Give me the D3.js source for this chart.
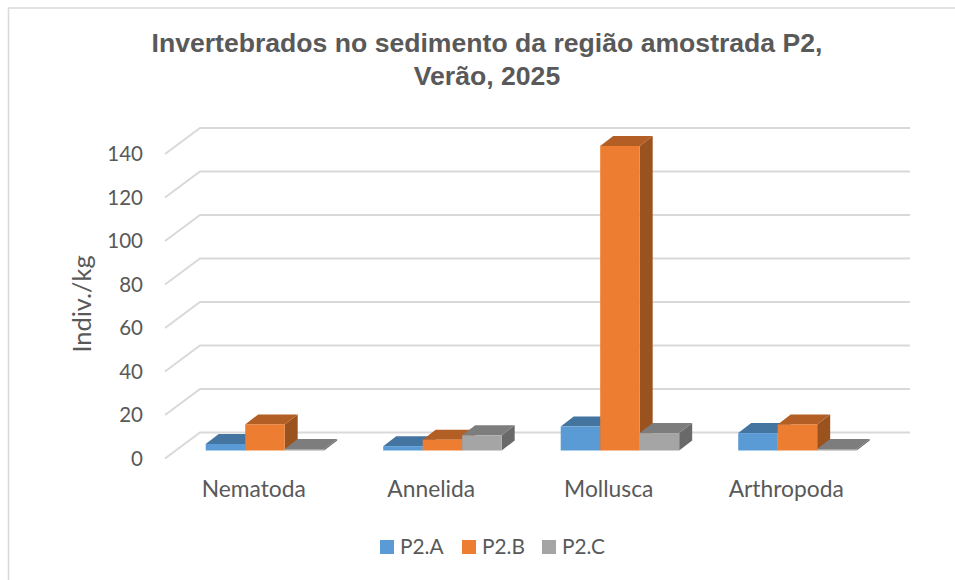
<!DOCTYPE html>
<html>
<head>
<meta charset="utf-8">
<script src="https://cdn.jsdelivr.net/npm/d3@7"></script>
<style>
html,body{margin:0;padding:0;background:#fff;overflow:hidden}
svg{display:block}
</style>
</head>
<body>
<svg id="chart" width="955" height="580"></svg>
<script>
const categories = ["Nematoda", "Annelida", "Mollusca", "Arthropoda"];
const seriesNames = ["P2.A", "P2.B", "P2.C"];
const valuesA = [3, 2, 11, 8];
const valuesB = [12, 5, 140, 12];
const valuesC = [0, 7, 8, 0];
const yTicks = [0, 20, 40, 60, 80, 100, 120, 140];
const titleLines = ["Invertebrados no sedimento da região amostrada P2,", "Verão, 2025"];
const yTitle = "Indiv./kg";
const frontColors = ["#5B9BD5", "#ED7D31", "#A5A5A5"];
const topColors = ["#4475A1", "#B35E24", "#7D7D7D"];
const sideColors = ["#37618A", "#9A521E", "#696969"];

const svg = d3.select("#chart");
const ink = "#595959";
const uiFont = "Lato, Carlito, sans-serif";

// Panel border (top and left edges show in the picture)
svg.append("path").attr("d", "M8.5,580V8H955").attr("fill", "none")
  .attr("stroke", "#D9D9D9").attr("stroke-width", 1.5);

// Title
svg.append("g").selectAll("text").data(titleLines).join("text")
  .attr("x", 487).attr("y", (d, i) => 52 + i * 33)
  .attr("text-anchor", "middle")
  .attr("font-family", "Liberation Sans, Arial, sans-serif")
  .attr("font-weight", "bold").attr("font-size", 26.6).attr("fill", ink)
  .text(d => d);

// Scales on the front plane of the 3-D box
const y = d3.scaleLinear().domain([0, 140]).range([458.5, 154]);
const x = d3.scaleBand().domain(categories).range([165, 875]);
const depthX = 35, depthY = -26;                // full floor depth
const barInsetX = 11, barInsetY = -8;           // bar front relative to front plane
const barDepthX = 13, barDepthY = -10;          // bar depth
const barW = x.bandwidth() * 0.2225;

// Gridlines: wall line plus receding floor line
const grid = svg.append("g").attr("fill", "none").attr("stroke", "#D9D9D9").attr("stroke-width", 2);
grid.selectAll("path").data(yTicks).join("path")
  .attr("d", d => `M${x.range()[0]},${y(d)}L${x.range()[0] + depthX},${y(d) + depthY}H${x.range()[1] + depthX}`);

// Value axis labels, from the library's axis
const axisG = svg.append("g").attr("transform", "translate(151,0)")
  .call(d3.axisLeft(y).tickValues(yTicks).tickSize(0).tickPadding(8));
axisG.select(".domain").remove();
axisG.selectAll("text").attr("font-family", uiFont).attr("font-size", 20.5).attr("fill", ink).attr("dy", "0.32em");

// Category labels
const catAxis = svg.append("g").attr("transform", "translate(0,479)")
  .call(d3.axisBottom(x).tickSize(0).tickPadding(0));
catAxis.select(".domain").remove();
catAxis.selectAll("text").attr("font-family", uiFont).attr("font-size", 22.8).attr("fill", ink).attr("dy", "0.8em");

// Y-axis title
svg.append("text").attr("transform", "translate(91,304) rotate(-90)")
  .attr("text-anchor", "middle").attr("font-family", uiFont).attr("font-size", 25.4).attr("fill", ink)
  .text(yTitle);

// Bars
const allSeries = [valuesA, valuesB, valuesC];
const barsData = [];
categories.forEach((c, ci) => {
  allSeries.forEach((vals, si) => barsData.push({ c, si, v: vals[ci] }));
});
const bars = svg.append("g").selectAll("g").data(barsData).join("g")
  .attr("transform", d => {
    const x0 = x(d.c) + barInsetX + 29.7 + d.si * barW;
    return `translate(${x0},${y(0) + barInsetY})`;
  });
const barH = d => Math.max(y(0) - y(d.v), 1.5);
bars.append("path").attr("fill", d => sideColors[d.si])
  .attr("d", d => `M${barW},0V${-barH(d)}l${barDepthX},${barDepthY}V${barDepthY}Z`);
bars.append("path").attr("fill", d => topColors[d.si])
  .attr("d", d => `M0,${-barH(d)}l${barDepthX},${barDepthY}H${barW + barDepthX}l${-barDepthX},${-barDepthY}Z`);
bars.append("rect").attr("fill", d => frontColors[d.si])
  .attr("x", 0).attr("width", barW).attr("y", d => -barH(d)).attr("height", barH);

// Legend
const legendX = [380, 462, 542];
const legend = svg.append("g").selectAll("g").data(seriesNames).join("g")
  .attr("transform", (d, i) => `translate(${legendX[i]},540)`);
legend.append("rect").attr("width", 14).attr("height", 14).attr("fill", (d, i) => frontColors[i]);
legend.append("text").attr("x", 20).attr("y", 14).attr("font-family", uiFont)
  .attr("font-size", 20.8).attr("fill", ink).text(d => d);
</script>
</body>
</html>
